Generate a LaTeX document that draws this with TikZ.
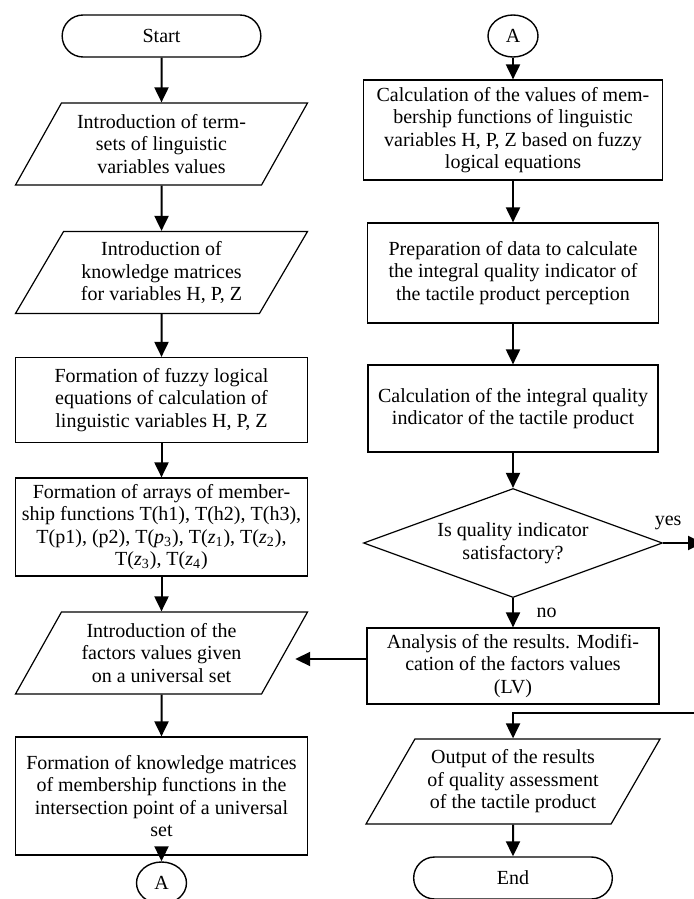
\documentclass[tikz,border=0pt]{standalone}
\usepackage{fontspec}
\setmainfont{Liberation Serif}
\usetikzlibrary{shapes.geometric, shapes.misc, arrows.meta, positioning}

\begin{document}
\begin{tikzpicture}[x=0.5pt, y=-0.5pt,
  font=\fontsize{10}{11.25}\selectfont,
  proc/.style={draw, line width=0.6pt, align=center, inner xsep=1pt, inner ysep=2pt, minimum width=146pt},
  io/.style={draw, line width=0.6pt, align=center, trapezium, trapezium left angle=54, trapezium right angle=126,
    trapezium stretches body, inner sep=1pt, minimum width=146pt, minimum height=41pt},
  term/.style={draw, line width=0.7pt, rounded rectangle, minimum width=106pt, minimum height=21pt},
  conn/.style={draw, line width=0.7pt, ellipse, inner sep=0pt, minimum width=25pt, minimum height=21pt},
  decide/.style={draw, line width=0.6pt, diamond, aspect=2.75, inner sep=0pt, align=center,
    minimum width=149.5pt, minimum height=54.5pt},
  arr/.style={-{Triangle[length=7.5pt, width=7pt]}, line width=1pt}]

  \useasboundingbox (0,0) rectangle (694,899);

  % left column
  \node[term] (start) at (161.5,36) {Start};
  \node[io] (terms) at (161.5,144) {Introduction of term-\\sets of linguistic\\variables values};
  \node[io] (know) at (161.5,272.5) {Introduction of\\knowledge matrices\\for variables H, P, Z};
  \node[proc, minimum height=42.5pt] (fuzzy) at (161.5,400) {Formation of fuzzy logical\\equations of calculation of\\linguistic variables H, P, Z};
  \node[proc, minimum height=49pt] (arrays) at (161.5,527) {Formation of arrays of member-\\ship functions T(h1), T(h2), T(h3),\\T(p1), (p2), T(\textit{p}\textsubscript{3}), T(\textit{z}\textsubscript{1}), T(\textit{z}\textsubscript{2}),\\T(\textit{z}\textsubscript{3}), T(\textit{z}\textsubscript{4})};
  \node[io] (factors) at (161.5,653) {Introduction of the\\factors values given\\on a universal set};
  \node[proc, minimum height=59pt] (matr) at (161.5,796) {Formation of knowledge matrices\\of membership functions in the\\intersection point of a universal\\set};
  \node[conn] (abot) at (161.5,883) {A};

  % right column
  \node[conn] (atop) at (513,36) {A};
  \node[proc, minimum width=149.5pt, minimum height=50pt] (calc) at (513,130) {Calculation of the values of mem-\\bership functions of linguistic\\variables H, P, Z based on fuzzy\\logical equations};
  \node[proc, minimum width=145.5pt, minimum height=50pt] (prep) at (513,273) {Preparation of data to calculate\\the integral quality indicator of\\the tactile product perception};
  \node[proc, minimum width=145pt, minimum height=43.5pt] (integ) at (513,408.5) {Calculation of the integral quality\\indicator of the tactile product};
  \node[decide] (quality) at (513,543) {Is quality indicator\\satisfactory?};
  \node[proc, minimum height=38pt] (analysis) at (513,666) {Analysis of the results. Modifi-\\cation of the factors values\\(LV)};
  \node[io, minimum width=147pt, minimum height=42.5pt] (output) at (513,781.5) {Output of the results\\of quality assessment\\of the tactile product};
  \node[term] (stop) at (513,878) {End};

  \coordinate (yesend) at (703,543);
  \coordinate (fb) at (700,713);

  % main flow
  \draw[arr] (start) -- (terms);
  \draw[arr] (terms) -- (know);
  \draw[arr] (know) -- (fuzzy);
  \draw[arr] (fuzzy) -- (arrays);
  \draw[arr] (arrays) -- (factors);
  \draw[arr] (factors) -- (matr);
  \draw[arr] (matr) -- (abot);
  \draw[arr] (atop) -- (calc);
  \draw[arr] (calc) -- (prep);
  \draw[arr] (prep) -- (integ);
  \draw[arr] (integ) -- (quality);
  \draw[arr] (quality) -- node[right=8pt] {no} (analysis);
  \draw[arr] (output) -- (stop);

  % yes branch
  \draw[arr] (quality.east) -- (yesend);
  \node[above=3pt] at ([xshift=2.5pt]quality.east) {yes};
  \draw[arr] (fb) -| (output);

  % back to factor values
  \draw[arr, shorten >=5pt] ([yshift=3.5pt]analysis.west) -- ([yshift=3.5pt]analysis.west -| factors.east);
\end{tikzpicture}
\end{document}
